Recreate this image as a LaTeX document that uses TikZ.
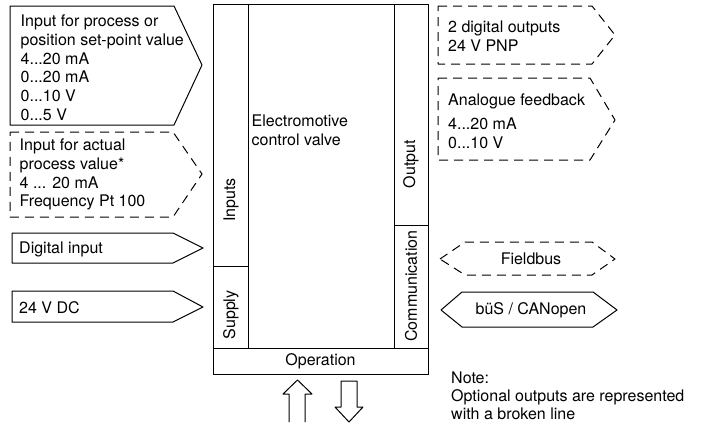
\documentclass[tikz,border=0pt]{standalone}
\usepackage{fontspec}
\setmainfont{TeX Gyre Heros}
\usetikzlibrary{positioning}

\tikzset{
  part/.style={draw, line width=1pt, inner sep=0, outer sep=0},
  solidline/.style={line width=1pt, line join=round},
  brokenline/.style={line width=1pt, line join=round, dash pattern=on 9pt off 6pt},
  txt/.style={inner sep=0, anchor=north west, align=left},
  sidetxt/.style={inner sep=0, rotate=90}
}

\begin{document}
\begin{tikzpicture}[x=1pt, y=-1pt, font=\fontsize{16}{18.9}\selectfont]
        \useasboundingbox (0,0) rectangle (701,423);
        % valve body and its parts
        \node [part, minimum width=146, minimum height=344, anchor=north west] (valve) at (248,4) {};
        \node [part, minimum width=35, minimum height=262, anchor=north east] (inputs) at (valve.north west) {};
        \node [part, minimum width=35, minimum height=82, below = 0 of inputs] (supply) {};
        \node [part, minimum width=34, minimum height=221, anchor=north west] (output) at (valve.north east) {};
        \node [part, minimum width=34, minimum height=123, below = 0 of output] (comm) {};
        \node [part, minimum width=215, minimum height=26, anchor=north west] (operation) at (supply.south west) {Operation};
        \node [txt] (valvetxt) at (251.5,114.3) {Electromotive\\control valve};
        \node [sidetxt] (inputstxt) at (231,200) {Inputs};
        \node [sidetxt] (supplytxt) at (231,315) {Supply};
        \node [sidetxt] (outputtxt) at (411,164) {Output};
        \node [sidetxt] (commtxt) at (411,286) {Communication};
        % inputs
        \draw [solidline] (10,6) -- (174,6) -- (202,65) -- (174,125) -- (10,125) -- cycle;
        \node [txt] (setpoint) at (20.5,14.3) {Input for process or\\position set-point value\\4...20 mA\\0...20 mA\\0...10 V\\0...5 V};
        \draw [brokenline] (10,132) -- (173,132) -- (202,174) -- (173,217) -- (10,217) -- cycle;
        \node [txt] (actual) at (19.5,138.3) {Input for actual\\process value*\\4 ... 20 mA\\Frequency Pt 100};
        \draw [solidline] (12,233) -- (173,233) -- (203,248) -- (173,263) -- (12,263) -- cycle;
        \node [txt] (digin) at (19,241.3) {Digital input};
        \draw [solidline] (12,291) -- (173,291) -- (203,307) -- (173,322) -- (12,322) -- cycle;
        \node [txt] (power) at (19,301.3) {24 V DC};
        % outputs
        \draw [brokenline] (438,6) -- (592,6) -- (615,35) -- (592,64) -- (438,64) -- cycle;
        \node [txt] (digout) at (448,20.3) {2 digital outputs\\24 V PNP};
        \draw [brokenline] (438,78) -- (590,78) -- (615,120) -- (590,160) -- (438,160) -- cycle;
        \node [txt] (feedback) at (448,93.3) {Analogue feedback\\[5pt]4...20 mA\\0...10 V};
        % communication
        \draw [brokenline] (440,259) -- (465,242) -- (592,242) -- (615,259) -- (592,275) -- (465,275) -- cycle;
        \node (fieldbus) at (531,259) {Fieldbus};
        \draw [solidline] (441,310) -- (462,292) -- (593,292) -- (617,310) -- (593,327) -- (462,327) -- cycle;
        \node (bus) at (531,310) {büS / CANopen};
        % operation arrows
        \draw [solidline] (289,422) -- (289,394) -- (283,394) -- (297.5,380) -- (312,394) -- (305,394) -- (305,422);
        \draw [solidline] (341,381) -- (357,381) -- (357,407) -- (363,407) -- (349,422) -- (335,407) -- (341,407) -- cycle;
        % note
        \node [txt, font=\fontsize{16}{18}\selectfont] (note) at (451,371.3) {Note:\\Optional outputs are represented\\with a broken line};
\end{tikzpicture}
\end{document}
